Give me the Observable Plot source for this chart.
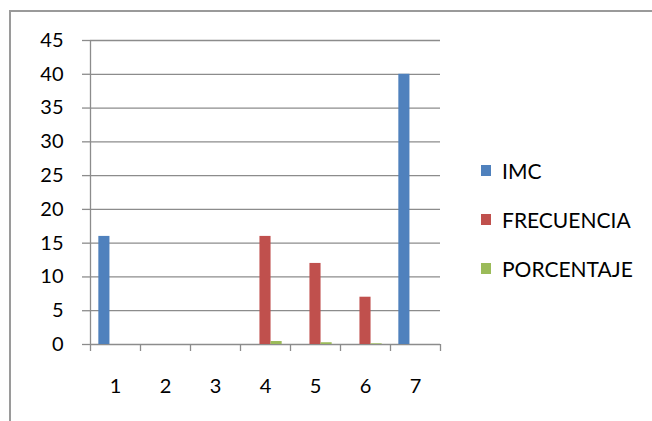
<!DOCTYPE html>
<html>
<head>
<meta charset="utf-8">
<script src="https://cdn.jsdelivr.net/npm/d3@7"></script>
<script src="https://cdn.jsdelivr.net/npm/@observablehq/plot@0.6"></script>
<style>
  html, body { margin: 0; padding: 0; background: #fff; overflow: hidden; }
  #wrap { position: relative; width: 652px; height: 421px; font-family: Lato, "Open Sans", sans-serif; }
  #border { position: absolute; left: 9px; top: 10px; width: 760px; height: 500px; border: 2px solid #9a9a9a; box-sizing: border-box; }
  #chart { position: absolute; left: 0; top: 0; }
  #legend { position: absolute; left: 481px; top: 158px; font-size: 21px; color: #000; }
  .item { display: flex; align-items: center; height: 25px; margin-bottom: 24px; }
  .key { width: 10px; height: 11px; margin-right: 11px; }
</style>
</head>
<body>
<div id="wrap">
  <div id="border"></div>
  <div id="chart"></div>
  <div id="legend"></div>
</div>
<script>
// Categories along the x axis
const categories = [1, 2, 3, 4, 5, 6, 7];
// Series values, one per category
const imc        = [16, 0, 0, 0, 0, 0, 40];
const frecuencia = [0, 0, 0, 16, 12, 7, 0];
const porcentaje = [0, 0, 0, 0.44, 0.26, 0.1, 0];
// Series names and y tick labels
const seriesNames = ["IMC", "FRECUENCIA", "PORCENTAJE"];
const yTicks = [0, 5, 10, 15, 20, 25, 30, 35, 40, 45];

const colors = ["#4F81BD", "#C0504D", "#9BBB59"];
const seriesValues = [imc, frecuencia, porcentaje];

// Clustered-column layout: gap width of 150% of one bar
const nSeries = seriesNames.length;
const gapWidth = 1.5;
const barW = 1 / (nSeries + gapWidth);

const rows = [];
seriesValues.forEach((vals, s) => {
  vals.forEach((v, i) => {
    if (v > 0) {
      const x1 = categories[i] - 0.5 + barW * gapWidth / 2 + s * barW;
      rows.push({series: seriesNames[s], cat: categories[i], value: v, x1, x2: x1 + barW});
    }
  });
});

const boundaries = [0.5, ...categories.map(c => c + 0.5)];
const gridColor = "#8c8c8c";

const chart = Plot.plot({
  width: 652,
  height: 421,
  marginTop: 40,
  marginBottom: 77,
  marginLeft: 90,
  marginRight: 212,
  style: {fontFamily: "Lato, 'Open Sans', sans-serif", fontSize: "20px", background: "transparent", color: "#000"},
  x: {domain: [0.5, 7.5], axis: null},
  y: {domain: [0, 45], axis: null},
  color: {domain: seriesNames, range: colors},
  marks: [
    Plot.ruleY(yTicks, {stroke: gridColor, strokeWidth: 1.3}),
    Plot.ruleX([0.5], {stroke: gridColor, strokeWidth: 1.3}),
    Plot.rectY(rows, {x1: "x1", x2: "x2", y1: 0, y2: "value", fill: "series"}),
    Plot.axisY({ticks: yTicks, label: null, tickFormat: d => String(d), tickSize: 8, tickPadding: 19, stroke: gridColor, strokeWidth: 1.3, fill: "#000"}),
    Plot.axisX({ticks: boundaries, label: null, tickFormat: () => "", tickSize: 7, stroke: gridColor, strokeWidth: 1.3}),
    Plot.axisX({ticks: categories, label: null, tickFormat: d => String(d), tickSize: 0, tickPadding: 34, fill: "#000"})
  ]
});
document.getElementById("chart").appendChild(chart);

// Legend to the right of the plot
const legend = document.getElementById("legend");
seriesNames.forEach((name, i) => {
  const item = document.createElement("div");
  item.className = "item";
  const key = document.createElement("span");
  key.className = "key";
  key.style.background = colors[i];
  const label = document.createElement("span");
  label.textContent = name;
  item.appendChild(key);
  item.appendChild(label);
  legend.appendChild(item);
});
</script>
</body>
</html>
